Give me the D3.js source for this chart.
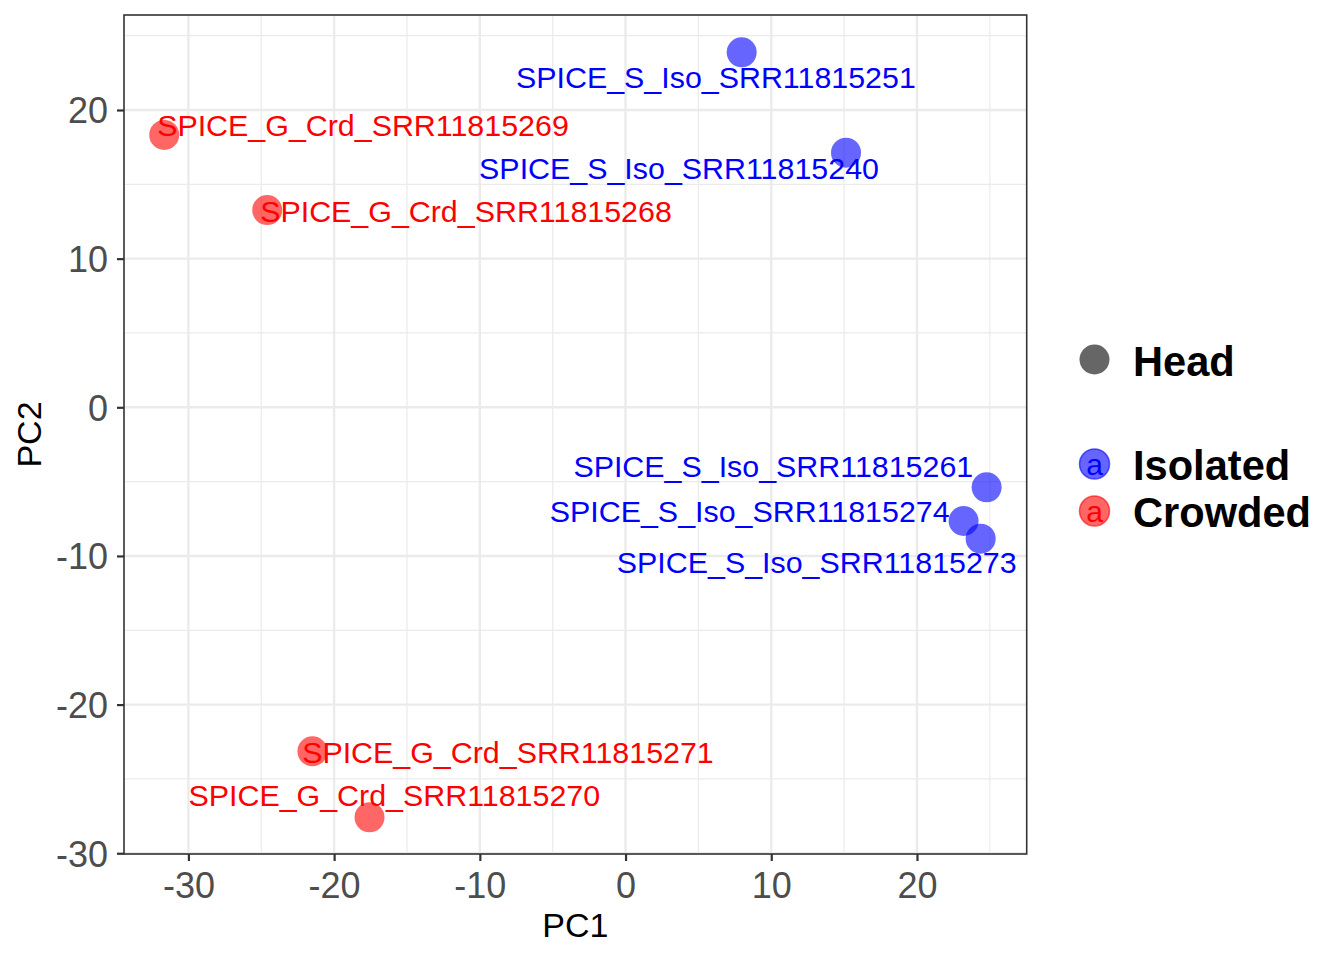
<!DOCTYPE html>
<html>
<head>
<meta charset="utf-8">
<script src="https://cdn.jsdelivr.net/npm/d3@7"></script>
<style>
  body { margin: 0; background: #fff; }
  svg { display: block; font-family: "Liberation Sans", Arial, Helvetica, sans-serif; }
</style>
</head>
<body>
<svg id="pca"></svg>
<script>
// Samples and their PCA coordinates
const samples = [
    "SPICE_S_Iso_SRR11815251", "SPICE_S_Iso_SRR11815240",
    "SPICE_G_Crd_SRR11815269", "SPICE_G_Crd_SRR11815268",
    "SPICE_S_Iso_SRR11815261", "SPICE_S_Iso_SRR11815274",
    "SPICE_S_Iso_SRR11815273", "SPICE_G_Crd_SRR11815271",
    "SPICE_G_Crd_SRR11815270"
];
const groups = ["Isolated", "Isolated", "Crowded", "Crowded",
    "Isolated", "Isolated", "Isolated", "Crowded", "Crowded"];
const pc1 = [7.97, 15.13, -31.66, -24.59, 24.78, 23.2, 24.37, -21.49, -17.57];
const pc2 = [23.88, 17.13, 18.32, 13.27, -5.38, -7.65, -8.84, -23.14, -27.58];

// where the repelled labels ended up (data units)
const labelPc1 = [6.2, 3.67, -18.02, -10.95, 10.14, 8.52, 13.12, -8.07, -15.87];
const labelPc2 = [22.22, 16.08, 18.97, 13.2, -3.97, -6.96, -10.41, -23.2, -26.08];

const xLimits = [-34.42, 27.53];
const yLimits = [-30.05, 26.39];
const xTicks = [-30, -20, -10, 0, 10, 20];
const yTicks = [-30, -20, -10, 0, 10, 20];
const xMinor = [-25, -15, -5, 5, 15, 25];
const yMinor = [-25, -15, -5, 5, 15, 25];

const groupNames = ["Isolated", "Crowded"];
const groupColors = { "Isolated": "#0000FF", "Crowded": "#FF0000" };

const W = 1344, H = 960;
const panel = { left: 124, top: 15, right: 1026.7, bottom: 854 };

const svg = d3.select("#pca")
    .attr("width", W)
    .attr("height", H);

const x = d3.scaleLinear().domain(xLimits).range([panel.left, panel.right]);
const y = d3.scaleLinear().domain(yLimits).range([panel.bottom, panel.top]);

// Panel background
svg.append("rect")
    .attr("x", panel.left)
    .attr("y", panel.top)
    .attr("width", panel.right - panel.left)
    .attr("height", panel.bottom - panel.top)
    .attr("fill", "#fff");

// Minor grid lines
const grid = svg.append("g").attr("stroke", "#EBEBEB");
grid.selectAll(".xminor").data(xMinor).enter().append("line")
    .attr("x1", d => x(d)).attr("x2", d => x(d))
    .attr("y1", panel.top).attr("y2", panel.bottom)
    .attr("stroke-width", 1.2);
grid.selectAll(".yminor").data(yMinor).enter().append("line")
    .attr("y1", d => y(d)).attr("y2", d => y(d))
    .attr("x1", panel.left).attr("x2", panel.right)
    .attr("stroke-width", 1.2);

// Major grid lines
grid.selectAll(".xmajor").data(xTicks).enter().append("line")
    .attr("x1", d => x(d)).attr("x2", d => x(d))
    .attr("y1", panel.top).attr("y2", panel.bottom)
    .attr("stroke-width", 2.4);
grid.selectAll(".ymajor").data(yTicks).enter().append("line")
    .attr("y1", d => y(d)).attr("y2", d => y(d))
    .attr("x1", panel.left).attr("x2", panel.right)
    .attr("stroke-width", 2.4);

// Data table for marks
const points = samples.map((s, i) => ({
    name: s, group: groups[i], pc1: pc1[i], pc2: pc2[i],
    lx: labelPc1[i], ly: labelPc2[i]
}));

// Points
svg.append("g").selectAll("circle")
    .data(points)
    .enter().append("circle")
    .attr("cx", d => x(d.pc1))
    .attr("cy", d => y(d.pc2))
    .attr("r", 15)
    .attr("fill", d => groupColors[d.group])
    .attr("fill-opacity", 0.6);

// Labels
svg.append("g").selectAll("text")
    .data(points)
    .enter().append("text")
    .attr("x", d => x(d.lx))
    .attr("y", d => y(d.ly))
    .attr("dy", "0.36em")
    .attr("text-anchor", "middle")
    .style("font-size", "30.4px")
    .style("fill", d => groupColors[d.group])
    .text(d => d.name);

// Panel border
svg.append("rect")
    .attr("x", panel.left)
    .attr("y", panel.top)
    .attr("width", panel.right - panel.left)
    .attr("height", panel.bottom - panel.top)
    .attr("fill", "none")
    .attr("stroke", "#333333")
    .attr("stroke-width", 1.6);

// Axes
const xAxis = svg.append("g")
    .attr("transform", "translate(0," + panel.bottom + ")")
    .call(d3.axisBottom(x).tickValues(xTicks).tickSize(7).tickPadding(4).tickFormat(d3.format("d")));
const yAxis = svg.append("g")
    .attr("transform", "translate(" + panel.left + ",0)")
    .call(d3.axisLeft(y).tickValues(yTicks).tickSize(7).tickPadding(9).tickFormat(d3.format("d")));

[xAxis, yAxis].forEach(ax => {
    ax.select(".domain").remove();
    ax.selectAll(".tick line").attr("stroke", "#333333").attr("stroke-width", 2.2);
    ax.selectAll(".tick text")
        .style("font-size", "36px")
        .style("font-family", "'Liberation Sans', Arial, Helvetica, sans-serif")
        .attr("fill", "#4D4D4D")
        .text(d => String(d).replace("\u2212", "-"));
});
xAxis.selectAll(".tick text").attr("dy", "0.92em");
yAxis.selectAll(".tick text").attr("dy", "0.36em");

// Axis titles
svg.append("text")
    .attr("x", (panel.left + panel.right) / 2)
    .attr("y", 937)
    .attr("text-anchor", "middle")
    .style("font-size", "34px")
    .style("fill", "#000")
    .text("PC1");

svg.append("text")
    .attr("transform", "rotate(-90)")
    .attr("x", -(panel.top + panel.bottom) / 2)
    .attr("y", 40.5)
    .attr("text-anchor", "middle")
    .style("font-size", "34px")
    .style("fill", "#000")
    .text("PC2");

// Legend: shape
const legend = svg.append("g");
legend.append("circle")
    .attr("cx", 1094.5).attr("cy", 359.5).attr("r", 15)
    .attr("fill", "#000").attr("fill-opacity", 0.6);
legend.append("text")
    .attr("x", 1133).attr("y", 361.5).attr("dy", "0.36em")
    .style("font-size", "41.6px").style("font-weight", "bold")
    .text("Head");

// Legend: groups
const keyY = d3.scalePoint().domain(groupNames).range([464, 511]);
const keys = legend.selectAll(".key")
    .data(groupNames)
    .enter().append("g")
    .attr("class", "key")
    .attr("transform", d => "translate(1094.5," + keyY(d) + ")");
keys.append("circle")
    .attr("r", 15)
    .attr("fill", d => groupColors[d]).attr("fill-opacity", 0.6)
    .attr("stroke", d => groupColors[d]).attr("stroke-opacity", 0.6)
    .attr("stroke-width", 1.5);
keys.append("text")
    .attr("y", 0).attr("dy", "0.36em")
    .attr("text-anchor", "middle")
    .style("font-size", "30px")
    .style("fill", d => groupColors[d])
    .text("a");
keys.append("text")
    .attr("x", 38.5).attr("y", 1.5).attr("dy", "0.36em")
    .style("font-size", "41.6px").style("font-weight", "bold")
    .style("fill", "#000")
    .text(d => d);
</script>
</body>
</html>
